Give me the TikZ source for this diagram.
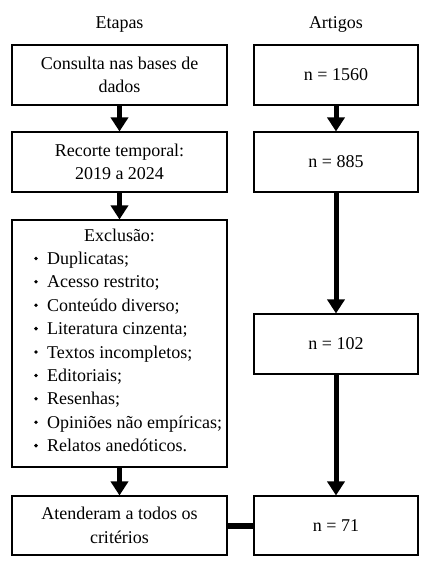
\documentclass[tikz,border=0pt]{standalone}
\usepackage{fontspec}
\setmainfont{Liberation Serif}
\usetikzlibrary{arrows.meta}
\begin{document}
\begin{tikzpicture}[x=1pt,y=-1pt,
  every node/.style={font=\fontsize{18}{23.4}\selectfont, inner sep=0pt},
  lbox/.style={draw=black, line width=1.1pt, minimum width=215pt, align=center},
  rbox/.style={draw=black, line width=1.1pt, minimum width=164pt, align=center},
  flow/.style={line width=5pt, -{Triangle[width=17pt,length=14pt]}},
  link/.style={line width=6pt}]
\useasboundingbox (0,0) rectangle (424,566);
\fill[white] (0,0) rectangle (424,566);
% titles
\node[anchor=base] (t1) at (119.5,28) {Etapas};
\node[anchor=base] (t2) at (336,28) {Artigos};
% left column
\node[lbox, minimum height=60pt] (a1) at (119.5,75) {Consulta nas bases de\\dados};
\node[lbox, minimum height=60pt] (a2) at (119.5,162) {Recorte temporal:\\2019 a 2024};
\node[lbox, minimum height=247pt] (a3) at (119.5,343.5) {};
\node[lbox, minimum height=59pt] (a4) at (119.5,525.5) {Atenderam a todos os\\critérios};
% exclusion content
\node[anchor=base] (ex) at (119.5,241) {Exclusão:};
\foreach \t [count=\i] in {Duplicatas;, Acesso restrito;, Conteúdo diverso;, Literatura cinzenta;, Textos incompletos;, Editoriais;, Resenhas;, Opiniões não empíricas;, Relatos anedóticos.}{
  \node[anchor=base west] (i\i) at (47,{241+23.4*\i}) {\t};
  \fill (36,{235+23.4*\i}) circle (1.9pt);
}
% right column
\node[rbox, minimum height=60pt] (b1) at (336,75) {n = 1560};
\node[rbox, minimum height=60pt] (b2) at (336,162) {n = 885};
\node[rbox, minimum height=60pt] (b3) at (336,344) {n = 102};
\node[rbox, minimum height=59pt] (b4) at (336,525.5) {n = 71};
% connectors
\draw[flow] (a1.south) -- (a2.north);
\draw[flow] (a2.south) -- (a3.north);
\draw[flow] (a3.south) -- (a4.north);
\draw[flow] (b1.south) -- (b2.north);
\draw[flow] (b2.south) -- (b3.north);
\draw[flow] (b3.south) -- (b4.north);
\draw[link] (a4.east) -- (b4.west);
\end{tikzpicture}
\end{document}
